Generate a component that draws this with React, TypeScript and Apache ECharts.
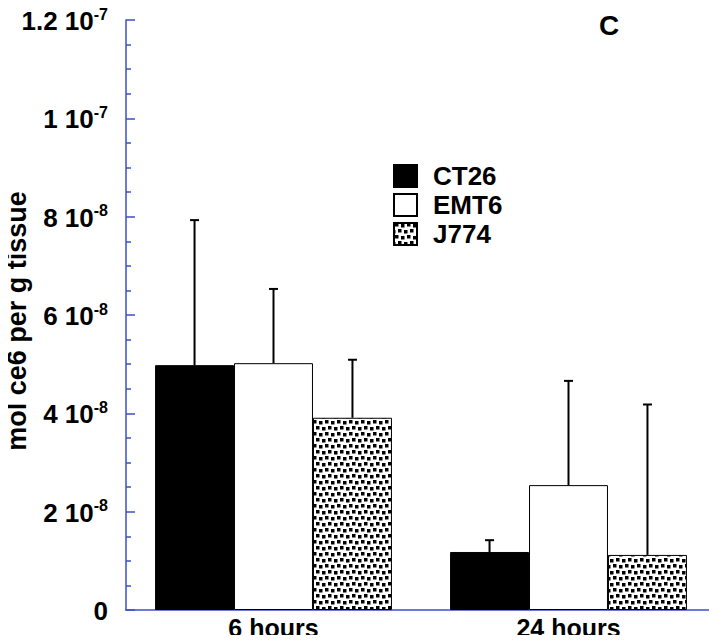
import React, { useEffect, useRef } from "react";
import * as echarts from "echarts";

const categories = ["6 hours", "24 hours"];
const seriesNames = ["CT26", "EMT6", "J774"];
const ct26Values = [4.98e-8, 1.18e-8];
const ct26Errors = [7.93e-8, 1.42e-8];
const emt6Values = [5.02e-8, 2.54e-8];
const emt6Errors = [6.53e-8, 4.66e-8];
const j774Values = [3.91e-8, 1.12e-8];
const j774Errors = [5.09e-8, 4.18e-8];
const yTickMantissa = ["0", "2 10", "4 10", "6 10", "8 10", "1 10", "1.2 10"];
const yTickExponent = ["", "-8", "-8", "-8", "-8", "-7", "-7"];

const AXIS_BLUE = "#3d4fc6";
const FONT = "'Liberation Sans', Arial, Helvetica, sans-serif";
const CAT_GAP = 0.197;

function makePattern(): HTMLCanvasElement {
  const c = document.createElement("canvas");
  c.width = 12;
  c.height = 12;
  const ctx = c.getContext("2d")!;
  ctx.fillStyle = "#ffffff";
  ctx.fillRect(0, 0, 12, 12);
  ctx.fillStyle = "#000000";
  const pts = [
    [1, 0],
    [7, 1],
    [4, 6],
    [10, 7],
  ];
  pts.forEach(([x, y]) => {
    ctx.fillRect(x, y, 3.5, 3.5);
    if (x + 3.5 > 12) ctx.fillRect(x - 12, y, 3.5, 3.5);
  });
  return c;
}

export default function App() {
  const ref = useRef<HTMLDivElement>(null);
  useEffect(() => {
    if (!ref.current) return;
    const chart = echarts.init(ref.current, undefined, { renderer: "svg" });
    const pattern = makePattern();
    const values = [ct26Values, emt6Values, j774Values];
    const errors = [ct26Errors, emt6Errors, j774Errors];
    const fills: any[] = [
      "#000000",
      "#ffffff",
      { image: pattern, repeat: "repeat" },
    ];

    const barSeries = seriesNames.map((name, i) => ({
      name,
      type: "bar",
      data: values[i],
      barGap: "0%",
      barCategoryGap: CAT_GAP * 100 + "%",
      itemStyle: { color: fills[i], borderColor: "#000", borderWidth: 1 },
      z: 2,
    }));

    const errSeries = seriesNames.map((name, i) => ({
      type: "custom",
      name: name + "-err",
      z: 3,
      data: values[i].map((v, k) => [k, v, errors[i][k]]),
      encode: { x: 0, y: [1, 2] },
      renderItem: (params: any, api: any) => {
        const cat = api.value(0);
        const base = api.coord([cat, api.value(1)]);
        const top = api.coord([cat, api.value(2)]);
        const band = api.size([1, 0])[0];
        const bw = (band * (1 - CAT_GAP)) / 3;
        const x = base[0] + (i - 1) * bw;
        return {
          type: "group",
          children: [
            {
              type: "line",
              shape: { x1: x, y1: base[1], x2: x, y2: top[1] },
              style: { stroke: "#000", lineWidth: 2 },
            },
            {
              type: "line",
              shape: { x1: x - 4.5, y1: top[1], x2: x + 4.5, y2: top[1] },
              style: { stroke: "#000", lineWidth: 2 },
            },
          ],
        };
      },
    }));

    chart.setOption({
      animation: false,
      grid: {
        left: 126,
        right: 1,
        top: 20,
        bottom: 33,
        containLabel: false,
        outerBoundsMode: "none",
      },
      legend: {
        data: seriesNames,
        orient: "vertical",
        left: 393,
        top: 163,
        padding: 0,
        icon: "rect",
        itemWidth: 23,
        itemHeight: 22,
        itemGap: 3,
        textStyle: {
          fontFamily: FONT,
          fontWeight: "bold",
          fontSize: 26,
          lineHeight: 22,
          color: "#000",
          padding: [0, 0, 0, 11],
        },
        selectedMode: false,
      },
      xAxis: {
        type: "category",
        data: categories,
        axisLine: { lineStyle: { color: AXIS_BLUE, width: 1.5 } },
        axisTick: { inside: true, length: 8, lineStyle: { color: AXIS_BLUE, width: 1.5 } },
        axisLabel: {
          fontFamily: FONT,
          fontWeight: "bold",
          fontSize: 25,
          lineHeight: 24,
          color: "#000",
          margin: 6,
        },
      },
      yAxis: {
        type: "value",
        min: 0,
        max: 1.2e-7,
        interval: 2e-8,
        name: "mol ce6 per g tissue",
        nameLocation: "middle",
        nameMoveOverlap: false,
        nameGap: 96,
        nameTextStyle: {
          fontFamily: FONT,
          fontWeight: "bold",
          fontSize: 27,
          color: "#000",
          padding: [0, 12, 0, 0],
        },
        splitLine: { show: false },
        axisLine: { show: true, lineStyle: { color: AXIS_BLUE, width: 1.5 } },
        axisTick: { show: true, inside: true, length: 9, lineStyle: { color: AXIS_BLUE, width: 1.5 } },
        minorTick: { show: true, splitNumber: 4, length: 5, lineStyle: { color: AXIS_BLUE, width: 1.5 } },
        axisLabel: {
          margin: 18,
          formatter: (v: number) => {
            const idx = Math.round(v / 2e-8);
            const m = yTickMantissa[idx];
            const e = yTickExponent[idx];
            return e ? `{m|${m}}{e|${e}}` : `{m|${m}}`;
          },
          rich: {
            m: {
              fontFamily: FONT,
              fontWeight: "bold",
              fontSize: 26,
              color: "#000",
              lineHeight: 28,
              verticalAlign: "bottom",
            },
            e: {
              fontFamily: FONT,
              fontWeight: "bold",
              fontSize: 16,
              color: "#000",
              lineHeight: 28,
              verticalAlign: "top",
            },
          },
        },
      },
      graphic: [
        {
          type: "text",
          left: 599,
          top: 11,
          style: {
            text: "C",
            fontFamily: FONT,
            fontWeight: "bold",
            fontSize: 28,
            fill: "#000",
          },
        },
      ],
      series: [...barSeries, ...errSeries],
    });
    return () => chart.dispose();
  }, []);
  return <div ref={ref} style={{ width: 717, height: 643, margin: -8 }} />;
}
